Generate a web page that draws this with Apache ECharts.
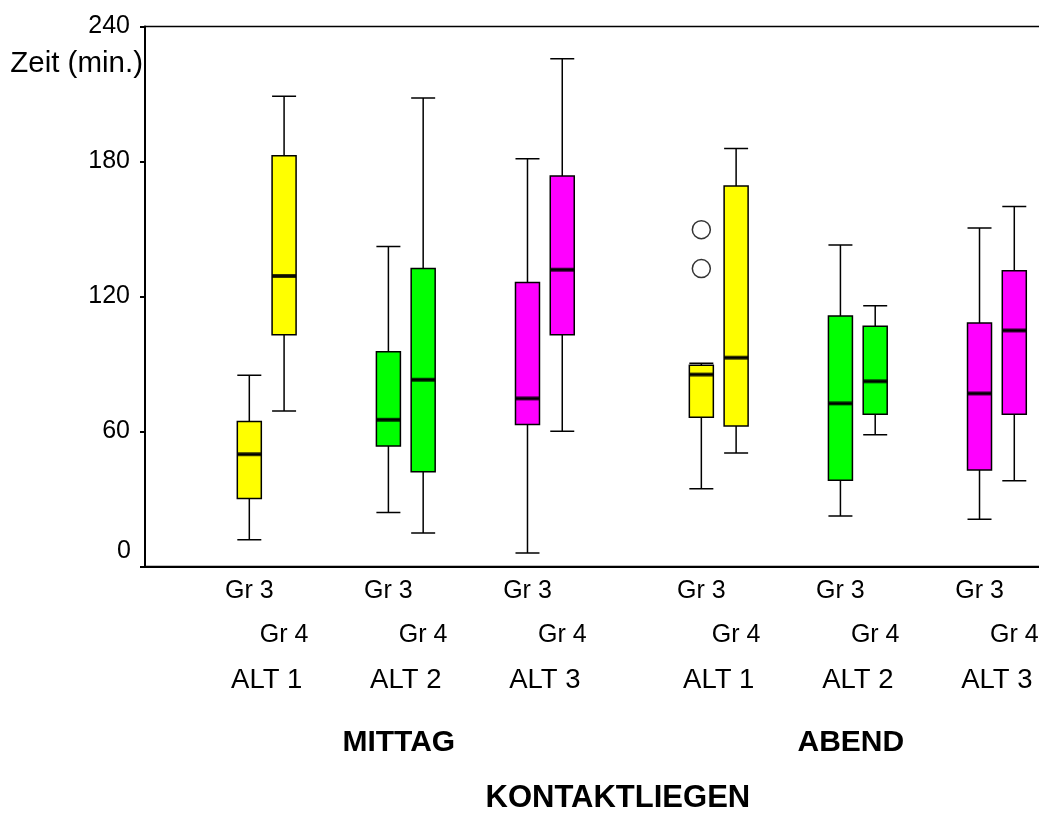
<!DOCTYPE html>
<html><head><meta charset="utf-8">
<script src="https://cdn.jsdelivr.net/npm/echarts@6/dist/echarts.min.js"></script>
<style>html,body{margin:0;padding:0;background:#fff}#c{width:1039px;height:815px}</style>
</head><body><div id="c"></div>
<script>
// ---------- data ----------
const sessions = ['MITTAG', 'ABEND'];
const altLabels = ['ALT 1', 'ALT 2', 'ALT 3'];
const groupLabels = ['Gr 3', 'Gr 4'];
const outerTitle = 'KONTAKTLIEGEN';
const yName = 'Zeit (min.)';
const yTicks = [0, 60, 120, 180, 240];
// [min, Q1, median, Q3, max] for ALT 1, ALT 2, ALT 3
const mittagGr3 = [[11.9, 30.2, 49.9, 64.5, 85.0], [24.0, 53.6, 65.2, 95.4, 142.2], [6.0, 63.1, 74.7, 126.2, 181.2]];
const mittagGr4 = [[69.1, 103.0, 129.1, 182.6, 209.0], [14.9, 42.1, 83.0, 132.4, 208.2], [60.1, 103.0, 131.9, 173.6, 225.7]];
const abendGr3 = [[34.6, 66.3, 85.3, 89.5, 90.3], [22.4, 38.3, 72.5, 111.3, 142.9], [21.0, 42.9, 76.9, 108.2, 150.5]];
const abendGr4 = [[50.4, 62.5, 92.8, 169.1, 185.8], [58.6, 67.7, 82.3, 106.8, 115.9], [38.1, 67.7, 104.9, 131.4, 160.0]];
// outliers of ABEND, ALT 1, Gr 3
const abendAlt1Gr3Outliers = [149.7, 132.4];

// ---------- styles / layout ----------
const altColors = ['#ffff00', '#00ff00', '#ff00ff'];
const FONT = 'Liberation Sans, Arial, sans-serif';
const statsBySession = [[mittagGr3, mittagGr4], [abendGr3, abendGr4]];
const slotOf = (s, a, g) => s * 13 + a * 4 + g;   // layout position on hidden x scale
const X_MIN = -3, X_MAX = 25;

const boxData = [];
const medianData = [];
statsBySession.forEach((grs, s) => {
  grs.forEach((arr, g) => {
    arr.forEach((st, a) => {
      const x = slotOf(s, a, g);
      boxData.push({ value: [x].concat(st), itemStyle: { color: altColors[a], borderColor: '#000' } });
      medianData.push([x, st[2]]);
    });
  });
});
const outlierData = abendAlt1Gr3Outliers.map(v => [slotOf(1, 0, 0), v]);

// label maps keyed by position*10
const gr3Map = {}, gr4Map = {}, altMap = {}, sesMap = {}, titleMap = {};
sessions.forEach((ses, s) => {
  altLabels.forEach((al, a) => {
    gr3Map[Math.round(slotOf(s, a, 0) * 10)] = groupLabels[0];
    gr4Map[Math.round(slotOf(s, a, 1) * 10)] = groupLabels[1];
    altMap[Math.round((slotOf(s, a, 0) + 0.5) * 10)] = al;
  });
  sesMap[Math.round((slotOf(s, 1, 0) + 0.3) * 10)] = ses;
});
titleMap[106] = outerTitle;

function labelAxis(map, interval, margin, size, weight) {
  return {
    type: 'value', gridIndex: 0, position: 'bottom', min: X_MIN, max: X_MAX, interval: interval,
    axisLine: { show: false }, axisTick: { show: false }, splitLine: { show: false },
    axisLabel: {
      show: true, margin: margin, fontSize: size, fontFamily: FONT, fontWeight: weight || 'normal', color: '#000',
      showMinLabel: true, showMaxLabel: true, hideOverlap: false,
      formatter: v => map[Math.round(v * 10)] || ''
    }
  };
}

const chart = echarts.init(document.getElementById('c'), null, { renderer: 'canvas' });
chart.setOption({
  animation: false,
  backgroundColor: '#fff',
  grid: {
    left: 145, top: 26.5, width: 973.6, height: 540,
    containLabel: false, outerBoundsMode: 'none',
    show: true, borderColor: '#000', borderWidth: 1.5, backgroundColor: 'transparent'
  },
  xAxis: [
    {
      type: 'value', min: X_MIN, max: X_MAX, interval: 1, position: 'bottom',
      axisLine: { show: true, onZero: false, lineStyle: { color: '#000', width: 2 } },
      axisTick: { show: false }, axisLabel: { show: false }, splitLine: { show: false }
    },
    labelAxis(gr3Map, 1, 12, 25),
    labelAxis(gr4Map, 1, 56, 25),
    labelAxis(altMap, 0.5, 100, 27.5),
    labelAxis(sesMap, 0.1, 161, 30, 'bold'),
    labelAxis(titleMap, 0.1, 216, 31, 'bold')
  ],
  yAxis: [
    {
      type: 'value', min: yTicks[0], max: yTicks[yTicks.length - 1], interval: yTicks[1] - yTicks[0], position: 'left',
      axisLine: { show: true, onZero: false, lineStyle: { color: '#000', width: 2 } },
      axisTick: { show: true, inside: false, length: 5, lineStyle: { color: '#000', width: 2 } },
      splitLine: { show: false },
      axisLabel: { margin: 15, fontSize: 25, fontFamily: FONT, color: '#000', formatter: v => (v === 0 ? '' : String(v)) }
    },
    {
      type: 'value', min: yTicks[0], max: yTicks[yTicks.length - 1], interval: yTicks[1] - yTicks[0], position: 'left',
      axisLine: { show: false }, axisTick: { show: false }, splitLine: { show: false },
      axisLabel: { margin: 14, fontSize: 25, fontFamily: FONT, color: '#000', verticalAlign: 'bottom', padding: [0, 0, 3, 0],
        formatter: v => (v === 0 ? String(v) : '') }
    }
  ],
  graphic: [{
    type: 'text', right: 1039 - 143, top: 49,
    style: { text: yName, fontSize: 29.5, fontFamily: FONT, fill: '#000' }
  }],
  series: [
    {
      type: 'boxplot', xAxisIndex: 0, yAxisIndex: 0, layout: 'horizontal',
      boxWidth: [24, 24],
      itemStyle: { borderWidth: 1.5, borderColor: '#000' },
      emphasis: { disabled: true },
      data: boxData
    },
    {
      type: 'scatter', xAxisIndex: 0, yAxisIndex: 0,
      symbol: 'rect', symbolSize: [24, 4], itemStyle: { color: '#000' },
      emphasis: { disabled: true }, z: 5,
      data: medianData
    },
    {
      type: 'scatter', xAxisIndex: 0, yAxisIndex: 0,
      symbol: 'circle', symbolSize: 18, itemStyle: { color: '#fff', borderColor: '#000', borderWidth: 1.5 },
      emphasis: { disabled: true }, z: 5,
      data: outlierData
    }
  ]
});
</script></body></html>
